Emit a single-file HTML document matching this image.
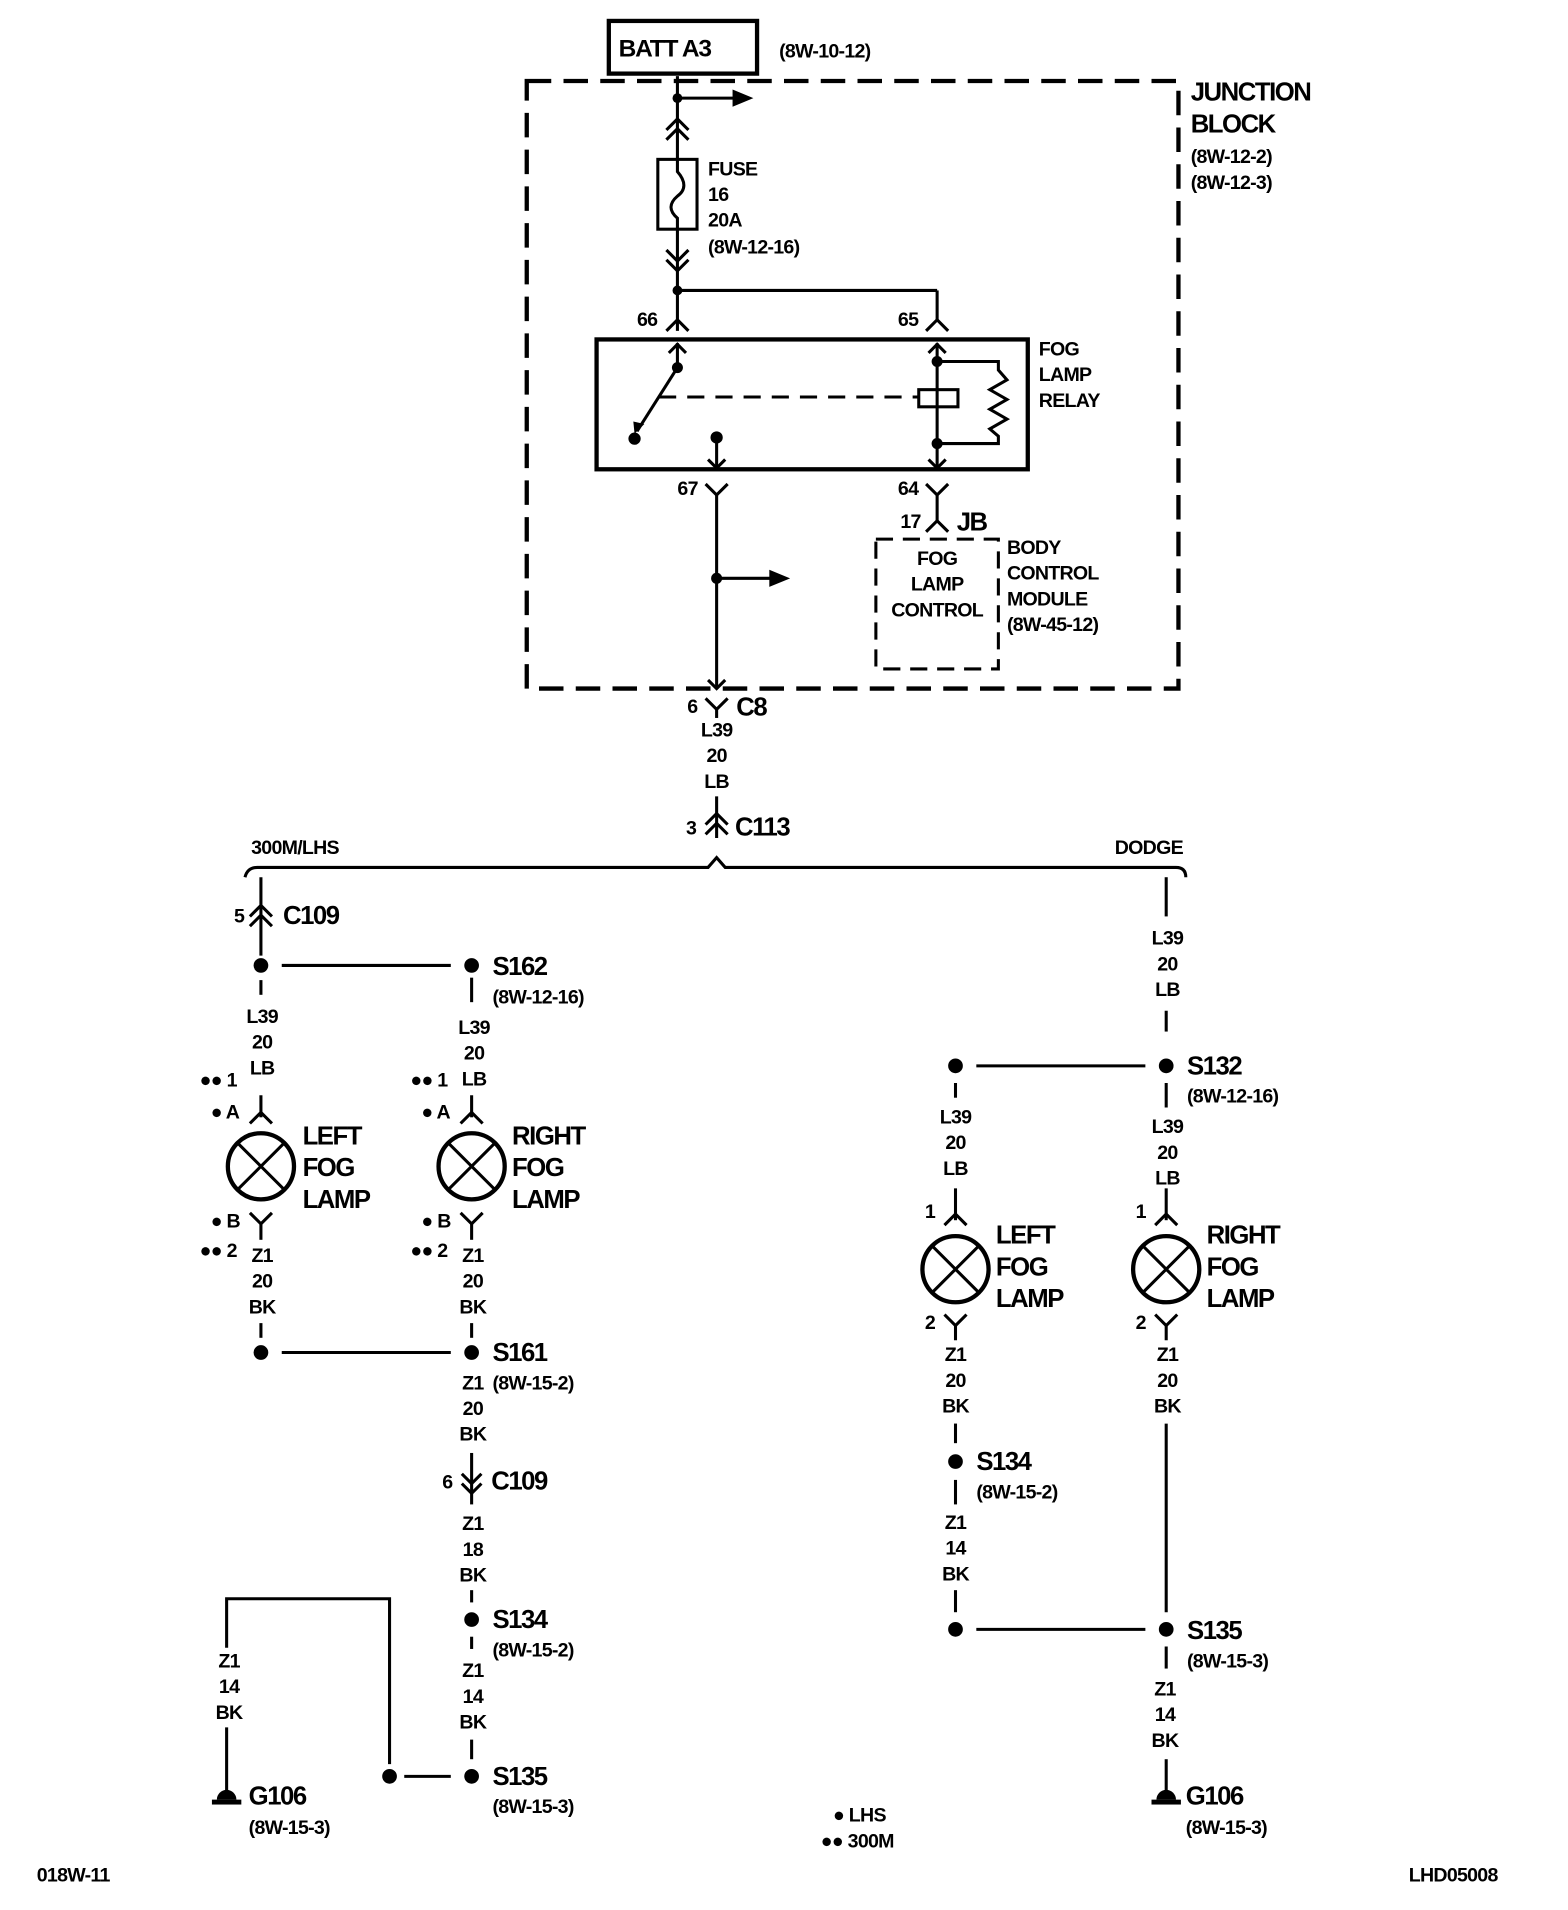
<!DOCTYPE html>
<html><head><meta charset="utf-8"><style>
html,body{margin:0;padding:0;background:#fff}
svg{display:block}
text{font-family:"Liberation Sans Narrow","Liberation Sans",sans-serif;font-weight:bold;fill:#000}
.s{font-size:16px;letter-spacing:-0.6px}
.b{font-size:21px;letter-spacing:-1.2px}
.m{text-anchor:middle}
</style></head><body>
<svg width="1568" height="1910" viewBox="0 0 1280 1559" xmlns="http://www.w3.org/2000/svg">
<g stroke="#000" stroke-width="2.5" fill="none">
<rect x="497" y="17" width="121" height="43" stroke-width="3.5"/>
<rect x="430" y="66" width="532" height="496" stroke-width="3.5" stroke-dasharray="20,10"/>
<line x1="553" y1="62" x2="553" y2="130"/>
<line x1="553" y1="80" x2="600" y2="80"/>
<path d="M544 106 L553 97 L562 106 M544 114 L553 105 L562 114"/>
<rect x="537" y="130" width="32" height="57"/>
<path d="M553 130 L553 140 C560 148 560 155 553 160 C546 166 546 172 553 178 L553 187"/>
<line x1="553" y1="187" x2="553" y2="270"/>
<path d="M544 204 L553 213 L562 204 M544 212 L553 221 L562 212"/>
<line x1="553" y1="237" x2="765" y2="237"/>
<line x1="765" y1="237" x2="765" y2="262"/>
<path d="M544 270 L553 261 L562 270 M756 270 L765 261 L774 270"/>
<rect x="487" y="277" width="352" height="106" stroke-width="3.5"/>
<line x1="553" y1="280" x2="553" y2="300"/>
<path d="M546 288 L553 281 L560 288"/>
<line x1="553" y1="300" x2="520" y2="352"/>
<path d="M538 324 L750 324" stroke-dasharray="14,9"/>
<rect x="750" y="318" width="32" height="14"/>
<line x1="765" y1="280" x2="765" y2="383"/>
<path d="M758 288 L765 281 L772 288"/>
<path d="M765 295 L815 295 L815 302 L822 310 L808 318 L822 326 L808 334 L822 342 L808 350 L815 356 L815 362 L765 362"/>
<line x1="585" y1="357" x2="585" y2="383"/>
<path d="M578 375 L585 382 L592 375 M758 375 L765 382 L772 375"/>
<path d="M576 395 L585 404 L594 395 M756 395 L765 404 L774 395"/>
<line x1="585" y1="404" x2="585" y2="562"/>
<line x1="765" y1="404" x2="765" y2="425"/>
<path d="M756 434 L765 425 L774 434"/>
<line x1="585" y1="472" x2="630" y2="472"/>
<rect x="715" y="440" width="100" height="106" stroke-dasharray="14,8"/>
<path d="M578 555 L585 562 L592 555 M576 570 L585 579 L594 570"/>
<line x1="585" y1="579" x2="585" y2="586"/>
<line x1="585" y1="650" x2="585" y2="684"/>
<path d="M576 673 L585 664 L594 673 M576 681 L585 672 L594 681"/>
<path d="M200 716 Q202 708 210 708 L578 708 L585 700 L592 708 L960 708 Q968 708 968 716"/>
<line x1="213" y1="716" x2="213" y2="780"/>
<path d="M204 748 L213 739 L222 748 M204 756 L213 747 L222 756"/>
<line x1="230" y1="788" x2="368" y2="788"/>
<line x1="213" y1="800" x2="213" y2="812"/>
<line x1="213" y1="894" x2="213" y2="912"/>
<path d="M204 917 L213 908 L222 917"/>
<circle cx="213" cy="952" r="27" stroke-width="3.5"/>
<path d="M194 933 L232 971 M232 933 L194 971"/>
<path d="M204 990 L213 999 L222 990"/>
<line x1="213" y1="999" x2="213" y2="1012"/>
<line x1="213" y1="1080" x2="213" y2="1092"/>
<line x1="230" y1="1104" x2="368" y2="1104"/>
<line x1="385" y1="798" x2="385" y2="818"/>
<line x1="385" y1="894" x2="385" y2="912"/>
<path d="M376 917 L385 908 L394 917"/>
<circle cx="385" cy="952" r="27" stroke-width="3.5"/>
<path d="M366 933 L404 971 M404 933 L366 971"/>
<path d="M376 990 L385 999 L394 990"/>
<line x1="385" y1="999" x2="385" y2="1012"/>
<line x1="385" y1="1080" x2="385" y2="1092"/>
<line x1="385" y1="1186" x2="385" y2="1228"/>
<path d="M377 1203 L385 1211 L393 1203 M377 1211 L385 1219 L393 1211"/>
<line x1="385" y1="1298" x2="385" y2="1308"/>
<line x1="385" y1="1336" x2="385" y2="1346"/>
<line x1="385" y1="1420" x2="385" y2="1436"/>
<line x1="330" y1="1450" x2="368" y2="1450"/>
<path d="M318 1440 L318 1305 L185 1305 L185 1345"/>
<line x1="185" y1="1410" x2="185" y2="1462"/>
<line x1="952" y1="716" x2="952" y2="748"/>
<line x1="952" y1="825" x2="952" y2="842"/>
<line x1="797" y1="870" x2="935" y2="870"/>
<line x1="780" y1="884" x2="780" y2="896"/>
<line x1="952" y1="884" x2="952" y2="904"/>
<line x1="780" y1="970" x2="780" y2="996"/>
<path d="M771 1000 L780 991 L789 1000"/>
<circle cx="780" cy="1036" r="27" stroke-width="3.5"/>
<path d="M761 1017 L799 1055 M799 1017 L761 1055"/>
<path d="M771 1073 L780 1082 L789 1073"/>
<line x1="780" y1="1082" x2="780" y2="1094"/>
<line x1="780" y1="1162" x2="780" y2="1178"/>
<line x1="780" y1="1208" x2="780" y2="1228"/>
<line x1="780" y1="1298" x2="780" y2="1316"/>
<line x1="797" y1="1330" x2="935" y2="1330"/>
<line x1="952" y1="970" x2="952" y2="996"/>
<path d="M943 1000 L952 991 L961 1000"/>
<circle cx="952" cy="1036" r="27" stroke-width="3.5"/>
<path d="M933 1017 L971 1055 M971 1017 L933 1055"/>
<path d="M943 1073 L952 1082 L961 1073"/>
<line x1="952" y1="1082" x2="952" y2="1094"/>
<line x1="952" y1="1162" x2="952" y2="1316"/>
<line x1="952" y1="1344" x2="952" y2="1362"/>
<line x1="952" y1="1436" x2="952" y2="1462"/>
</g>
<g fill="#000">
<polygon points="598,73 615,80 598,87"/>
<polygon points="628,465 645,472 628,479"/>
<polygon points="517,344 526,346 518,354"/>
<circle cx="553" cy="80" r="4"/><circle cx="553" cy="237" r="4"/>
<circle cx="553" cy="300" r="4.5"/><circle cx="518" cy="358" r="5"/>
<circle cx="585" cy="357" r="5"/><circle cx="765" cy="295" r="4.5"/><circle cx="765" cy="362" r="4.5"/>
<circle cx="585" cy="472" r="4.5"/>
<circle cx="213" cy="788" r="6"/><circle cx="385" cy="788" r="6"/>
<circle cx="213" cy="1104" r="6"/><circle cx="385" cy="1104" r="6"/>
<circle cx="385" cy="1322" r="6"/><circle cx="385" cy="1450" r="6"/><circle cx="318" cy="1450" r="6"/>
<circle cx="780" cy="870" r="6"/><circle cx="952" cy="870" r="6"/>
<circle cx="780" cy="1193" r="6"/><circle cx="780" cy="1330" r="6"/><circle cx="952" cy="1330" r="6"/>
<path d="M177 1469 A8 8 0 0 1 193 1469 Z"/><rect x="173" y="1469" width="24" height="4"/>
<path d="M944 1469 A8 8 0 0 1 960 1469 Z"/><rect x="940" y="1469" width="24" height="4"/>
</g>
<text x="505" y="46" font-size="20" letter-spacing="-1">BATT A3</text>
<text x="636" y="47" class="s">(8W-10-12)</text>
<text x="972" y="82" class="b">JUNCTION</text>
<text x="972" y="108" class="b">BLOCK</text>
<text x="972" y="133" class="s">(8W-12-2)</text>
<text x="972" y="154" class="s">(8W-12-3)</text>
<text x="578" y="143" class="s">FUSE</text>
<text x="578" y="164" class="s">16</text>
<text x="578" y="185" class="s">20A</text>
<text x="578" y="207" class="s">(8W-12-16)</text>
<text x="520" y="266" class="s">66</text>
<text x="733" y="266" class="s">65</text>
<text x="848" y="290" class="s">FOG</text>
<text x="848" y="311" class="s">LAMP</text>
<text x="848" y="332" class="s">RELAY</text>
<text x="553" y="404" class="s">67</text>
<text x="733" y="404" class="s">64</text>
<text x="735" y="431" class="s">17</text>
<text x="781" y="433" class="b">JB</text>
<text x="765" y="461" class="s m">FOG</text>
<text x="765" y="482" class="s m">LAMP</text>
<text x="765" y="503" class="s m">CONTROL</text>
<text x="822" y="452" class="s">BODY</text>
<text x="822" y="473" class="s">CONTROL</text>
<text x="822" y="494" class="s">MODULE</text>
<text x="822" y="515" class="s">(8W-45-12)</text>
<text x="561" y="582" class="s">6</text>
<text x="601" y="584" class="b">C8</text>
<text x="585" y="601" class="s m">L39</text>
<text x="585" y="622" class="s m">20</text>
<text x="585" y="643" class="s m">LB</text>
<text x="560" y="681" class="s">3</text>
<text x="600" y="682" class="b">C113</text>
<text x="205" y="697" class="s">300M/LHS</text>
<text x="910" y="697" class="s">DODGE</text>
<text x="191" y="753" class="s">5</text>
<text x="231" y="754" class="b">C109</text>
<text x="402" y="796" class="b">S162</text>
<text x="402" y="819" class="s">(8W-12-16)</text>
<text x="214" y="835" class="s m">L39</text>
<text x="214" y="856" class="s m">20</text>
<text x="214" y="877" class="s m">LB</text>
<text x="387" y="844" class="s m">L39</text>
<text x="387" y="865" class="s m">20</text>
<text x="387" y="886" class="s m">LB</text>
<text x="163" y="887" class="s">●● 1</text>
<text x="335" y="887" class="s">●● 1</text>
<text x="172" y="913" class="s">● A</text>
<text x="344" y="913" class="s">● A</text>
<text x="247" y="934" class="b">LEFT</text>
<text x="247" y="960" class="b">FOG</text>
<text x="247" y="986" class="b">LAMP</text>
<text x="418" y="934" class="b">RIGHT</text>
<text x="418" y="960" class="b">FOG</text>
<text x="418" y="986" class="b">LAMP</text>
<text x="172" y="1002" class="s">● B</text>
<text x="344" y="1002" class="s">● B</text>
<text x="163" y="1026" class="s">●● 2</text>
<text x="335" y="1026" class="s">●● 2</text>
<text x="214" y="1030" class="s m">Z1</text>
<text x="214" y="1051" class="s m">20</text>
<text x="214" y="1072" class="s m">BK</text>
<text x="386" y="1030" class="s m">Z1</text>
<text x="386" y="1051" class="s m">20</text>
<text x="386" y="1072" class="s m">BK</text>
<text x="402" y="1111" class="b">S161</text>
<text x="402" y="1134" class="s">(8W-15-2)</text>
<text x="386" y="1134" class="s m">Z1</text>
<text x="386" y="1155" class="s m">20</text>
<text x="386" y="1176" class="s m">BK</text>
<text x="361" y="1215" class="s">6</text>
<text x="401" y="1216" class="b">C109</text>
<text x="386" y="1249" class="s m">Z1</text>
<text x="386" y="1270" class="s m">18</text>
<text x="386" y="1291" class="s m">BK</text>
<text x="402" y="1329" class="b">S134</text>
<text x="402" y="1352" class="s">(8W-15-2)</text>
<text x="386" y="1369" class="s m">Z1</text>
<text x="386" y="1390" class="s m">14</text>
<text x="386" y="1411" class="s m">BK</text>
<text x="402" y="1457" class="b">S135</text>
<text x="402" y="1480" class="s">(8W-15-3)</text>
<text x="187" y="1361" class="s m">Z1</text>
<text x="187" y="1382" class="s m">14</text>
<text x="187" y="1403" class="s m">BK</text>
<text x="203" y="1473" class="b">G106</text>
<text x="203" y="1497" class="s">(8W-15-3)</text>
<text x="953" y="771" class="s m">L39</text>
<text x="953" y="792" class="s m">20</text>
<text x="953" y="813" class="s m">LB</text>
<text x="969" y="877" class="b">S132</text>
<text x="969" y="900" class="s">(8W-12-16)</text>
<text x="780" y="917" class="s m">L39</text>
<text x="780" y="938" class="s m">20</text>
<text x="780" y="959" class="s m">LB</text>
<text x="953" y="925" class="s m">L39</text>
<text x="953" y="946" class="s m">20</text>
<text x="953" y="967" class="s m">LB</text>
<text x="755" y="994" class="s">1</text>
<text x="927" y="994" class="s">1</text>
<text x="813" y="1015" class="b">LEFT</text>
<text x="813" y="1041" class="b">FOG</text>
<text x="813" y="1067" class="b">LAMP</text>
<text x="985" y="1015" class="b">RIGHT</text>
<text x="985" y="1041" class="b">FOG</text>
<text x="985" y="1067" class="b">LAMP</text>
<text x="755" y="1085" class="s">2</text>
<text x="927" y="1085" class="s">2</text>
<text x="780" y="1111" class="s m">Z1</text>
<text x="780" y="1132" class="s m">20</text>
<text x="780" y="1153" class="s m">BK</text>
<text x="953" y="1111" class="s m">Z1</text>
<text x="953" y="1132" class="s m">20</text>
<text x="953" y="1153" class="s m">BK</text>
<text x="797" y="1200" class="b">S134</text>
<text x="797" y="1223" class="s">(8W-15-2)</text>
<text x="780" y="1248" class="s m">Z1</text>
<text x="780" y="1269" class="s m">14</text>
<text x="780" y="1290" class="s m">BK</text>
<text x="969" y="1338" class="b">S135</text>
<text x="969" y="1361" class="s">(8W-15-3)</text>
<text x="951" y="1384" class="s m">Z1</text>
<text x="951" y="1405" class="s m">14</text>
<text x="951" y="1426" class="s m">BK</text>
<text x="968" y="1473" class="b">G106</text>
<text x="968" y="1497" class="s">(8W-15-3)</text>
<text x="680" y="1487" class="s">● LHS</text>
<text x="670" y="1508" class="s">●● 300M</text>
<text x="30" y="1536" class="s">018W-11</text>
<text x="1150" y="1536" class="s">LHD05008</text>
</svg>
</body></html>
